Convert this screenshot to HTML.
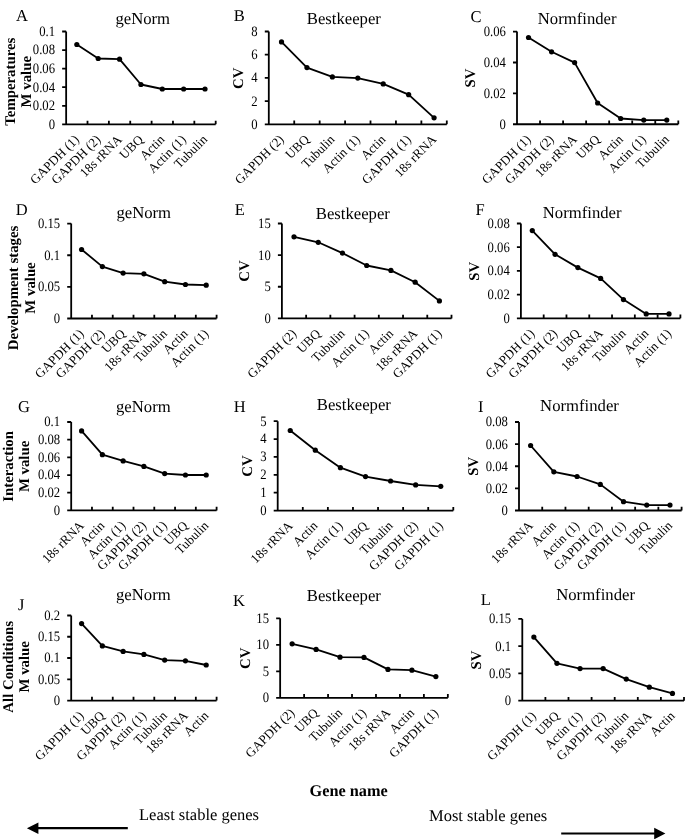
<!DOCTYPE html>
<html><head><meta charset="utf-8"><style>
html,body{margin:0;padding:0;background:#fff;overflow:hidden;}
svg{display:block;will-change:transform;}
text{font-family:"Liberation Serif",serif;fill:#000;text-rendering:geometricPrecision;}
.tl{font-size:13px;}
.yl{font-size:12.7px;}
.tt{font-size:16.7px;}
.lt{font-size:16.5px;}
.yt{font-size:14.8px;font-weight:bold;}
.bt{font-size:16.5px;}
.gn{font-size:16.3px;font-weight:bold;}
.ax,.tk{stroke:#000;stroke-width:1.8;fill:none;}
.ln{stroke:#000;stroke-width:1.8;fill:none;stroke-linejoin:round;}
circle{fill:#000;}
</style></head><body>
<svg width="685" height="839" viewBox="0 0 685 839">
<path class="ax" d="M66.15 31.5V124.35M62.15 124.35H215.7"/>
<path class="tk" d="M62.15 105.78H66.15M62.15 87.21H66.15M62.15 68.64H66.15M62.15 50.07H66.15M62.15 31.5H66.15M87.51 124.35V120.65M108.88 124.35V120.65M130.24 124.35V120.65M151.61 124.35V120.65M172.97 124.35V120.65M194.34 124.35V120.65M215.7 124.35V120.65"/>
<text class="yl" text-anchor="end" transform="translate(55.05 128.75) scale(1 1.13)">0</text>
<text class="yl" text-anchor="end" transform="translate(55.05 110.18) scale(1 1.13)">0.02</text>
<text class="yl" text-anchor="end" transform="translate(55.05 91.61) scale(1 1.13)">0.04</text>
<text class="yl" text-anchor="end" transform="translate(55.05 73.04) scale(1 1.13)">0.06</text>
<text class="yl" text-anchor="end" transform="translate(55.05 54.47) scale(1 1.13)">0.08</text>
<text class="yl" text-anchor="end" transform="translate(55.05 35.9) scale(1 1.13)">0.1</text>
<text class="tl" x="79.93" y="140.25" text-anchor="end" transform="rotate(-45 79.93 140.25)">GAPDH (1)</text>
<text class="tl" x="101.3" y="140.25" text-anchor="end" transform="rotate(-45 101.3 140.25)">GAPDH (2)</text>
<text class="tl" x="122.66" y="140.25" text-anchor="end" transform="rotate(-45 122.66 140.25)">18s rRNA</text>
<text class="tl" x="144.03" y="140.25" text-anchor="end" transform="rotate(-45 144.03 140.25)">UBQ</text>
<text class="tl" x="165.39" y="140.25" text-anchor="end" transform="rotate(-45 165.39 140.25)">Actin</text>
<text class="tl" x="186.75" y="140.25" text-anchor="end" transform="rotate(-45 186.75 140.25)">Actin (1)</text>
<text class="tl" x="208.12" y="140.25" text-anchor="end" transform="rotate(-45 208.12 140.25)">Tubulin</text>
<polyline class="ln" points="76.83,44.5 98.2,58.5 119.56,59.2 140.93,84.5 162.29,89 183.65,89 205.02,89"/>
<circle cx="76.83" cy="44.5" r="2.6"/>
<circle cx="98.2" cy="58.5" r="2.6"/>
<circle cx="119.56" cy="59.2" r="2.6"/>
<circle cx="140.93" cy="84.5" r="2.6"/>
<circle cx="162.29" cy="89" r="2.6"/>
<circle cx="183.65" cy="89" r="2.6"/>
<circle cx="205.02" cy="89" r="2.6"/>
<text class="lt" x="16" y="21.1">A</text>
<text class="tt" x="115.4" y="23.5">geNorm</text>
<text class="yt" text-anchor="middle" transform="translate(15.3 81.7) rotate(-90)">Temperatures</text>
<text class="yt" text-anchor="middle" transform="translate(31.2 81.7) rotate(-90)">M value</text>
<path class="ax" d="M268.8 31.5V124.3M264.8 124.3H446.8"/>
<path class="tk" d="M264.8 101.1H268.8M264.8 77.9H268.8M264.8 54.7H268.8M264.8 31.5H268.8M294.23 124.3V120.6M319.66 124.3V120.6M345.09 124.3V120.6M370.51 124.3V120.6M395.94 124.3V120.6M421.37 124.3V120.6M446.8 124.3V120.6"/>
<text class="yl" text-anchor="end" transform="translate(257.7 128.7) scale(1 1.13)">0</text>
<text class="yl" text-anchor="end" transform="translate(257.7 105.5) scale(1 1.13)">2</text>
<text class="yl" text-anchor="end" transform="translate(257.7 82.3) scale(1 1.13)">4</text>
<text class="yl" text-anchor="end" transform="translate(257.7 59.1) scale(1 1.13)">6</text>
<text class="yl" text-anchor="end" transform="translate(257.7 35.9) scale(1 1.13)">8</text>
<text class="tl" x="284.61" y="140.2" text-anchor="end" transform="rotate(-45 284.61 140.2)">GAPDH (2)</text>
<text class="tl" x="310.04" y="140.2" text-anchor="end" transform="rotate(-45 310.04 140.2)">UBQ</text>
<text class="tl" x="335.47" y="140.2" text-anchor="end" transform="rotate(-45 335.47 140.2)">Tubulin</text>
<text class="tl" x="360.9" y="140.2" text-anchor="end" transform="rotate(-45 360.9 140.2)">Actin (1)</text>
<text class="tl" x="386.33" y="140.2" text-anchor="end" transform="rotate(-45 386.33 140.2)">Actin</text>
<text class="tl" x="411.76" y="140.2" text-anchor="end" transform="rotate(-45 411.76 140.2)">GAPDH (1)</text>
<text class="tl" x="437.19" y="140.2" text-anchor="end" transform="rotate(-45 437.19 140.2)">18s rRNA</text>
<polyline class="ln" points="281.51,41.9 306.94,67.6 332.37,76.9 357.8,78.1 383.23,83.9 408.66,94.7 434.09,117.8"/>
<circle cx="281.51" cy="41.9" r="2.6"/>
<circle cx="306.94" cy="67.6" r="2.6"/>
<circle cx="332.37" cy="76.9" r="2.6"/>
<circle cx="357.8" cy="78.1" r="2.6"/>
<circle cx="383.23" cy="83.9" r="2.6"/>
<circle cx="408.66" cy="94.7" r="2.6"/>
<circle cx="434.09" cy="117.8" r="2.6"/>
<text class="lt" x="233.7" y="20.8">B</text>
<text class="tt" x="306.8" y="23.5">Bestkeeper</text>
<text class="yt" text-anchor="middle" transform="translate(243.1 78.2) rotate(-90)">CV</text>
<path class="ax" d="M517 31.6V124.25M513 124.25H678.3"/>
<path class="tk" d="M513 93.37H517M513 62.48H517M513 31.6H517M540.04 124.25V120.55M563.09 124.25V120.55M586.13 124.25V120.55M609.17 124.25V120.55M632.21 124.25V120.55M655.26 124.25V120.55M678.3 124.25V120.55"/>
<text class="yl" text-anchor="end" transform="translate(505.9 128.65) scale(1 1.13)">0</text>
<text class="yl" text-anchor="end" transform="translate(505.9 97.77) scale(1 1.13)">0.02</text>
<text class="yl" text-anchor="end" transform="translate(505.9 66.88) scale(1 1.13)">0.04</text>
<text class="yl" text-anchor="end" transform="translate(505.9 36) scale(1 1.13)">0.06</text>
<text class="tl" x="531.62" y="140.15" text-anchor="end" transform="rotate(-45 531.62 140.15)">GAPDH (1)</text>
<text class="tl" x="554.66" y="140.15" text-anchor="end" transform="rotate(-45 554.66 140.15)">GAPDH (2)</text>
<text class="tl" x="577.71" y="140.15" text-anchor="end" transform="rotate(-45 577.71 140.15)">18s rRNA</text>
<text class="tl" x="600.75" y="140.15" text-anchor="end" transform="rotate(-45 600.75 140.15)">UBQ</text>
<text class="tl" x="623.79" y="140.15" text-anchor="end" transform="rotate(-45 623.79 140.15)">Actin</text>
<text class="tl" x="646.84" y="140.15" text-anchor="end" transform="rotate(-45 646.84 140.15)">Actin (1)</text>
<text class="tl" x="669.88" y="140.15" text-anchor="end" transform="rotate(-45 669.88 140.15)">Tubulin</text>
<polyline class="ln" points="528.52,37.5 551.56,51.8 574.61,62.6 597.65,103 620.69,118.5 643.74,120.1 666.78,120.1"/>
<circle cx="528.52" cy="37.5" r="2.6"/>
<circle cx="551.56" cy="51.8" r="2.6"/>
<circle cx="574.61" cy="62.6" r="2.6"/>
<circle cx="597.65" cy="103" r="2.6"/>
<circle cx="620.69" cy="118.5" r="2.6"/>
<circle cx="643.74" cy="120.1" r="2.6"/>
<circle cx="666.78" cy="120.1" r="2.6"/>
<text class="lt" x="470.4" y="21.8">C</text>
<text class="tt" x="537.8" y="23.5">Normfinder</text>
<text class="yt" text-anchor="middle" transform="translate(475.3 78.15) rotate(-90)">SV</text>
<path class="ax" d="M71.2 223.6V318.5M67.2 318.5H216.6"/>
<path class="tk" d="M67.2 286.87H71.2M67.2 255.23H71.2M67.2 223.6H71.2M91.97 318.5V314.8M112.74 318.5V314.8M133.51 318.5V314.8M154.29 318.5V314.8M175.06 318.5V314.8M195.83 318.5V314.8M216.6 318.5V314.8"/>
<text class="yl" text-anchor="end" transform="translate(60.1 322.9) scale(1 1.13)">0</text>
<text class="yl" text-anchor="end" transform="translate(60.1 291.27) scale(1 1.13)">0.05</text>
<text class="yl" text-anchor="end" transform="translate(60.1 259.63) scale(1 1.13)">0.1</text>
<text class="yl" text-anchor="end" transform="translate(60.1 228) scale(1 1.13)">0.15</text>
<text class="tl" x="84.69" y="334.4" text-anchor="end" transform="rotate(-45 84.69 334.4)">GAPDH (1)</text>
<text class="tl" x="105.46" y="334.4" text-anchor="end" transform="rotate(-45 105.46 334.4)">GAPDH (2)</text>
<text class="tl" x="126.23" y="334.4" text-anchor="end" transform="rotate(-45 126.23 334.4)">UBQ</text>
<text class="tl" x="147" y="334.4" text-anchor="end" transform="rotate(-45 147 334.4)">18s rRNA</text>
<text class="tl" x="167.77" y="334.4" text-anchor="end" transform="rotate(-45 167.77 334.4)">Tubulin</text>
<text class="tl" x="188.54" y="334.4" text-anchor="end" transform="rotate(-45 188.54 334.4)">Actin</text>
<text class="tl" x="209.31" y="334.4" text-anchor="end" transform="rotate(-45 209.31 334.4)">Actin (1)</text>
<polyline class="ln" points="81.59,249.5 102.36,266.6 123.13,273.1 143.9,273.8 164.67,281.7 185.44,284.5 206.21,285.2"/>
<circle cx="81.59" cy="249.5" r="2.6"/>
<circle cx="102.36" cy="266.6" r="2.6"/>
<circle cx="123.13" cy="273.1" r="2.6"/>
<circle cx="143.9" cy="273.8" r="2.6"/>
<circle cx="164.67" cy="281.7" r="2.6"/>
<circle cx="185.44" cy="284.5" r="2.6"/>
<circle cx="206.21" cy="285.2" r="2.6"/>
<text class="lt" x="15.7" y="214.5">D</text>
<text class="tt" x="116.4" y="217.8">geNorm</text>
<text class="yt" text-anchor="middle" transform="translate(18 288) rotate(-90)">Development stages</text>
<text class="yt" text-anchor="middle" transform="translate(35 288) rotate(-90)">M value</text>
<path class="ax" d="M281.9 223.5V318.4M277.9 318.4H451.5"/>
<path class="tk" d="M277.9 286.77H281.9M277.9 255.13H281.9M277.9 223.5H281.9M306.13 318.4V314.7M330.36 318.4V314.7M354.59 318.4V314.7M378.81 318.4V314.7M403.04 318.4V314.7M427.27 318.4V314.7M451.5 318.4V314.7"/>
<text class="yl" text-anchor="end" transform="translate(270.8 322.8) scale(1 1.13)">0</text>
<text class="yl" text-anchor="end" transform="translate(270.8 291.17) scale(1 1.13)">5</text>
<text class="yl" text-anchor="end" transform="translate(270.8 259.53) scale(1 1.13)">10</text>
<text class="yl" text-anchor="end" transform="translate(270.8 227.9) scale(1 1.13)">15</text>
<text class="tl" x="297.11" y="334.3" text-anchor="end" transform="rotate(-45 297.11 334.3)">GAPDH (2)</text>
<text class="tl" x="321.34" y="334.3" text-anchor="end" transform="rotate(-45 321.34 334.3)">UBQ</text>
<text class="tl" x="345.57" y="334.3" text-anchor="end" transform="rotate(-45 345.57 334.3)">Tubulin</text>
<text class="tl" x="369.8" y="334.3" text-anchor="end" transform="rotate(-45 369.8 334.3)">Actin (1)</text>
<text class="tl" x="394.03" y="334.3" text-anchor="end" transform="rotate(-45 394.03 334.3)">Actin</text>
<text class="tl" x="418.26" y="334.3" text-anchor="end" transform="rotate(-45 418.26 334.3)">18s rRNA</text>
<text class="tl" x="442.49" y="334.3" text-anchor="end" transform="rotate(-45 442.49 334.3)">GAPDH (1)</text>
<polyline class="ln" points="294.01,236.8 318.24,242.3 342.47,253.1 366.7,265.5 390.93,270.4 415.16,282.2 439.39,300.9"/>
<circle cx="294.01" cy="236.8" r="2.6"/>
<circle cx="318.24" cy="242.3" r="2.6"/>
<circle cx="342.47" cy="253.1" r="2.6"/>
<circle cx="366.7" cy="265.5" r="2.6"/>
<circle cx="390.93" cy="270.4" r="2.6"/>
<circle cx="415.16" cy="282.2" r="2.6"/>
<circle cx="439.39" cy="300.9" r="2.6"/>
<text class="lt" x="234.7" y="214.5">E</text>
<text class="tt" x="315.8" y="219.2">Bestkeeper</text>
<text class="yt" text-anchor="middle" transform="translate(249.4 271) rotate(-90)">CV</text>
<path class="ax" d="M520.9 223.5V318.3M516.9 318.3H680.4"/>
<path class="tk" d="M516.9 294.6H520.9M516.9 270.9H520.9M516.9 247.2H520.9M516.9 223.5H520.9M543.69 318.3V314.6M566.47 318.3V314.6M589.26 318.3V314.6M612.04 318.3V314.6M634.83 318.3V314.6M657.61 318.3V314.6M680.4 318.3V314.6"/>
<text class="yl" text-anchor="end" transform="translate(509.8 322.7) scale(1 1.13)">0</text>
<text class="yl" text-anchor="end" transform="translate(509.8 299) scale(1 1.13)">0.02</text>
<text class="yl" text-anchor="end" transform="translate(509.8 275.3) scale(1 1.13)">0.04</text>
<text class="yl" text-anchor="end" transform="translate(509.8 251.6) scale(1 1.13)">0.06</text>
<text class="yl" text-anchor="end" transform="translate(509.8 227.9) scale(1 1.13)">0.08</text>
<text class="tl" x="535.39" y="334.2" text-anchor="end" transform="rotate(-45 535.39 334.2)">GAPDH (1)</text>
<text class="tl" x="558.18" y="334.2" text-anchor="end" transform="rotate(-45 558.18 334.2)">GAPDH (2)</text>
<text class="tl" x="580.96" y="334.2" text-anchor="end" transform="rotate(-45 580.96 334.2)">UBQ</text>
<text class="tl" x="603.75" y="334.2" text-anchor="end" transform="rotate(-45 603.75 334.2)">18s rRNA</text>
<text class="tl" x="626.54" y="334.2" text-anchor="end" transform="rotate(-45 626.54 334.2)">Tubulin</text>
<text class="tl" x="649.32" y="334.2" text-anchor="end" transform="rotate(-45 649.32 334.2)">Actin</text>
<text class="tl" x="672.11" y="334.2" text-anchor="end" transform="rotate(-45 672.11 334.2)">Actin (1)</text>
<polyline class="ln" points="532.29,230.6 555.08,254.3 577.86,267.6 600.65,278.4 623.44,299.6 646.22,313.9 669.01,313.9"/>
<circle cx="532.29" cy="230.6" r="2.6"/>
<circle cx="555.08" cy="254.3" r="2.6"/>
<circle cx="577.86" cy="267.6" r="2.6"/>
<circle cx="600.65" cy="278.4" r="2.6"/>
<circle cx="623.44" cy="299.6" r="2.6"/>
<circle cx="646.22" cy="313.9" r="2.6"/>
<circle cx="669.01" cy="313.9" r="2.6"/>
<text class="lt" x="475.4" y="214.5">F</text>
<text class="tt" x="542.8" y="217.5">Normfinder</text>
<text class="yt" text-anchor="middle" transform="translate(478.8 271.4) rotate(-90)">SV</text>
<path class="ax" d="M71.2 422V510.4M67.2 510.4H216.6"/>
<path class="tk" d="M67.2 492.72H71.2M67.2 475.04H71.2M67.2 457.36H71.2M67.2 439.68H71.2M67.2 422H71.2M91.97 510.4V506.7M112.74 510.4V506.7M133.51 510.4V506.7M154.29 510.4V506.7M175.06 510.4V506.7M195.83 510.4V506.7M216.6 510.4V506.7"/>
<text class="yl" text-anchor="end" transform="translate(60.1 514.8) scale(1 1.13)">0</text>
<text class="yl" text-anchor="end" transform="translate(60.1 497.12) scale(1 1.13)">0.02</text>
<text class="yl" text-anchor="end" transform="translate(60.1 479.44) scale(1 1.13)">0.04</text>
<text class="yl" text-anchor="end" transform="translate(60.1 461.76) scale(1 1.13)">0.06</text>
<text class="yl" text-anchor="end" transform="translate(60.1 444.08) scale(1 1.13)">0.08</text>
<text class="yl" text-anchor="end" transform="translate(60.1 426.4) scale(1 1.13)">0.1</text>
<text class="tl" x="84.69" y="526.3" text-anchor="end" transform="rotate(-45 84.69 526.3)">18s rRNA</text>
<text class="tl" x="105.46" y="526.3" text-anchor="end" transform="rotate(-45 105.46 526.3)">Actin</text>
<text class="tl" x="126.23" y="526.3" text-anchor="end" transform="rotate(-45 126.23 526.3)">Actin (1)</text>
<text class="tl" x="147" y="526.3" text-anchor="end" transform="rotate(-45 147 526.3)">GAPDH (2)</text>
<text class="tl" x="167.77" y="526.3" text-anchor="end" transform="rotate(-45 167.77 526.3)">GAPDH (1)</text>
<text class="tl" x="188.54" y="526.3" text-anchor="end" transform="rotate(-45 188.54 526.3)">UBQ</text>
<text class="tl" x="209.31" y="526.3" text-anchor="end" transform="rotate(-45 209.31 526.3)">Tubulin</text>
<polyline class="ln" points="81.59,430.9 102.36,454.7 123.13,460.9 143.9,466.4 164.67,473.6 185.44,475 206.21,475"/>
<circle cx="81.59" cy="430.9" r="2.6"/>
<circle cx="102.36" cy="454.7" r="2.6"/>
<circle cx="123.13" cy="460.9" r="2.6"/>
<circle cx="143.9" cy="466.4" r="2.6"/>
<circle cx="164.67" cy="473.6" r="2.6"/>
<circle cx="185.44" cy="475" r="2.6"/>
<circle cx="206.21" cy="475" r="2.6"/>
<text class="lt" x="18.1" y="411.8">G</text>
<text class="tt" x="116" y="411.8">geNorm</text>
<text class="yt" text-anchor="middle" transform="translate(12.5 466.4) rotate(-90)">Interaction</text>
<text class="yt" text-anchor="middle" transform="translate(29.2 466.4) rotate(-90)">M value</text>
<path class="ax" d="M277.7 421.2V510.6M273.7 510.6H453.3"/>
<path class="tk" d="M273.7 492.72H277.7M273.7 474.84H277.7M273.7 456.96H277.7M273.7 439.08H277.7M273.7 421.2H277.7M302.79 510.6V506.9M327.87 510.6V506.9M352.96 510.6V506.9M378.04 510.6V506.9M403.13 510.6V506.9M428.21 510.6V506.9M453.3 510.6V506.9"/>
<text class="yl" text-anchor="end" transform="translate(266.6 515) scale(1 1.13)">0</text>
<text class="yl" text-anchor="end" transform="translate(266.6 497.12) scale(1 1.13)">1</text>
<text class="yl" text-anchor="end" transform="translate(266.6 479.24) scale(1 1.13)">2</text>
<text class="yl" text-anchor="end" transform="translate(266.6 461.36) scale(1 1.13)">3</text>
<text class="yl" text-anchor="end" transform="translate(266.6 443.48) scale(1 1.13)">4</text>
<text class="yl" text-anchor="end" transform="translate(266.6 425.6) scale(1 1.13)">5</text>
<text class="tl" x="293.34" y="526.5" text-anchor="end" transform="rotate(-45 293.34 526.5)">18s rRNA</text>
<text class="tl" x="318.43" y="526.5" text-anchor="end" transform="rotate(-45 318.43 526.5)">Actin</text>
<text class="tl" x="343.51" y="526.5" text-anchor="end" transform="rotate(-45 343.51 526.5)">Actin (1)</text>
<text class="tl" x="368.6" y="526.5" text-anchor="end" transform="rotate(-45 368.6 526.5)">UBQ</text>
<text class="tl" x="393.69" y="526.5" text-anchor="end" transform="rotate(-45 393.69 526.5)">Tubulin</text>
<text class="tl" x="418.77" y="526.5" text-anchor="end" transform="rotate(-45 418.77 526.5)">GAPDH (2)</text>
<text class="tl" x="443.86" y="526.5" text-anchor="end" transform="rotate(-45 443.86 526.5)">GAPDH (1)</text>
<polyline class="ln" points="290.24,430.5 315.33,450.2 340.41,467.7 365.5,476.6 390.59,481 415.67,484.9 440.76,486.3"/>
<circle cx="290.24" cy="430.5" r="2.6"/>
<circle cx="315.33" cy="450.2" r="2.6"/>
<circle cx="340.41" cy="467.7" r="2.6"/>
<circle cx="365.5" cy="476.6" r="2.6"/>
<circle cx="390.59" cy="481" r="2.6"/>
<circle cx="415.67" cy="484.9" r="2.6"/>
<circle cx="440.76" cy="486.3" r="2.6"/>
<text class="lt" x="233.7" y="411.8">H</text>
<text class="tt" x="316.8" y="410.1">Bestkeeper</text>
<text class="yt" text-anchor="middle" transform="translate(251.8 466) rotate(-90)">CV</text>
<path class="ax" d="M519 422V510.5M515 510.5H681.6"/>
<path class="tk" d="M515 488.38H519M515 466.25H519M515 444.12H519M515 422H519M542.23 510.5V506.8M565.46 510.5V506.8M588.69 510.5V506.8M611.91 510.5V506.8M635.14 510.5V506.8M658.37 510.5V506.8M681.6 510.5V506.8"/>
<text class="yl" text-anchor="end" transform="translate(507.9 514.9) scale(1 1.13)">0</text>
<text class="yl" text-anchor="end" transform="translate(507.9 492.77) scale(1 1.13)">0.02</text>
<text class="yl" text-anchor="end" transform="translate(507.9 470.65) scale(1 1.13)">0.04</text>
<text class="yl" text-anchor="end" transform="translate(507.9 448.52) scale(1 1.13)">0.06</text>
<text class="yl" text-anchor="end" transform="translate(507.9 426.4) scale(1 1.13)">0.08</text>
<text class="tl" x="533.71" y="526.4" text-anchor="end" transform="rotate(-45 533.71 526.4)">18s rRNA</text>
<text class="tl" x="556.94" y="526.4" text-anchor="end" transform="rotate(-45 556.94 526.4)">Actin</text>
<text class="tl" x="580.17" y="526.4" text-anchor="end" transform="rotate(-45 580.17 526.4)">Actin (1)</text>
<text class="tl" x="603.4" y="526.4" text-anchor="end" transform="rotate(-45 603.4 526.4)">GAPDH (2)</text>
<text class="tl" x="626.63" y="526.4" text-anchor="end" transform="rotate(-45 626.63 526.4)">GAPDH (1)</text>
<text class="tl" x="649.86" y="526.4" text-anchor="end" transform="rotate(-45 649.86 526.4)">UBQ</text>
<text class="tl" x="673.09" y="526.4" text-anchor="end" transform="rotate(-45 673.09 526.4)">Tubulin</text>
<polyline class="ln" points="530.61,445.5 553.84,471.8 577.07,476.5 600.3,484.4 623.53,501.7 646.76,505.1 669.99,505.1"/>
<circle cx="530.61" cy="445.5" r="2.6"/>
<circle cx="553.84" cy="471.8" r="2.6"/>
<circle cx="577.07" cy="476.5" r="2.6"/>
<circle cx="600.3" cy="484.4" r="2.6"/>
<circle cx="623.53" cy="501.7" r="2.6"/>
<circle cx="646.76" cy="505.1" r="2.6"/>
<circle cx="669.99" cy="505.1" r="2.6"/>
<text class="lt" x="478.1" y="411.8">I</text>
<text class="tt" x="540.1" y="410.8">Normfinder</text>
<text class="yt" text-anchor="middle" transform="translate(478.2 466.4) rotate(-90)">SV</text>
<path class="ax" d="M71.2 615.5V700.55M67.2 700.55H216.6"/>
<path class="tk" d="M67.2 679.29H71.2M67.2 658.02H71.2M67.2 636.76H71.2M67.2 615.5H71.2M91.97 700.55V696.85M112.74 700.55V696.85M133.51 700.55V696.85M154.29 700.55V696.85M175.06 700.55V696.85M195.83 700.55V696.85M216.6 700.55V696.85"/>
<text class="yl" text-anchor="end" transform="translate(60.1 704.95) scale(1 1.13)">0</text>
<text class="yl" text-anchor="end" transform="translate(60.1 683.69) scale(1 1.13)">0.05</text>
<text class="yl" text-anchor="end" transform="translate(60.1 662.42) scale(1 1.13)">0.1</text>
<text class="yl" text-anchor="end" transform="translate(60.1 641.16) scale(1 1.13)">0.15</text>
<text class="yl" text-anchor="end" transform="translate(60.1 619.9) scale(1 1.13)">0.2</text>
<text class="tl" x="84.69" y="716.45" text-anchor="end" transform="rotate(-45 84.69 716.45)">GAPDH (1)</text>
<text class="tl" x="105.46" y="716.45" text-anchor="end" transform="rotate(-45 105.46 716.45)">UBQ</text>
<text class="tl" x="126.23" y="716.45" text-anchor="end" transform="rotate(-45 126.23 716.45)">GAPDH (2)</text>
<text class="tl" x="147" y="716.45" text-anchor="end" transform="rotate(-45 147 716.45)">Actin (1)</text>
<text class="tl" x="167.77" y="716.45" text-anchor="end" transform="rotate(-45 167.77 716.45)">Tubulin</text>
<text class="tl" x="188.54" y="716.45" text-anchor="end" transform="rotate(-45 188.54 716.45)">18s rRNA</text>
<text class="tl" x="209.31" y="716.45" text-anchor="end" transform="rotate(-45 209.31 716.45)">Actin</text>
<polyline class="ln" points="81.59,623.6 102.36,645.9 123.13,651.4 143.9,654.4 164.67,660.1 185.44,660.8 206.21,665"/>
<circle cx="81.59" cy="623.6" r="2.6"/>
<circle cx="102.36" cy="645.9" r="2.6"/>
<circle cx="123.13" cy="651.4" r="2.6"/>
<circle cx="143.9" cy="654.4" r="2.6"/>
<circle cx="164.67" cy="660.1" r="2.6"/>
<circle cx="185.44" cy="660.8" r="2.6"/>
<circle cx="206.21" cy="665" r="2.6"/>
<text class="lt" x="18.1" y="609.5">J</text>
<text class="tt" x="116" y="600.1">geNorm</text>
<text class="yt" text-anchor="middle" transform="translate(12.5 666.8) rotate(-90)">All Conditions</text>
<text class="yt" text-anchor="middle" transform="translate(29.1 666.8) rotate(-90)">M value</text>
<path class="ax" d="M280.15 618.3V697.8M276.15 697.8H447.85"/>
<path class="tk" d="M276.15 671.3H280.15M276.15 644.8H280.15M276.15 618.3H280.15M304.11 697.8V694.1M328.06 697.8V694.1M352.02 697.8V694.1M375.98 697.8V694.1M399.94 697.8V694.1M423.89 697.8V694.1M447.85 697.8V694.1"/>
<text class="yl" text-anchor="end" transform="translate(269.05 702.2) scale(1 1.13)">0</text>
<text class="yl" text-anchor="end" transform="translate(269.05 675.7) scale(1 1.13)">5</text>
<text class="yl" text-anchor="end" transform="translate(269.05 649.2) scale(1 1.13)">10</text>
<text class="yl" text-anchor="end" transform="translate(269.05 622.7) scale(1 1.13)">15</text>
<text class="tl" x="295.23" y="713.7" text-anchor="end" transform="rotate(-45 295.23 713.7)">GAPDH (2)</text>
<text class="tl" x="319.19" y="713.7" text-anchor="end" transform="rotate(-45 319.19 713.7)">UBQ</text>
<text class="tl" x="343.14" y="713.7" text-anchor="end" transform="rotate(-45 343.14 713.7)">Tubulin</text>
<text class="tl" x="367.1" y="713.7" text-anchor="end" transform="rotate(-45 367.1 713.7)">Actin (1)</text>
<text class="tl" x="391.06" y="713.7" text-anchor="end" transform="rotate(-45 391.06 713.7)">18s rRNA</text>
<text class="tl" x="415.01" y="713.7" text-anchor="end" transform="rotate(-45 415.01 713.7)">Actin</text>
<text class="tl" x="438.97" y="713.7" text-anchor="end" transform="rotate(-45 438.97 713.7)">GAPDH (1)</text>
<polyline class="ln" points="292.13,643.8 316.09,649.4 340.04,657.2 364,657.4 387.96,669.4 411.91,670.2 435.87,676.6"/>
<circle cx="292.13" cy="643.8" r="2.6"/>
<circle cx="316.09" cy="649.4" r="2.6"/>
<circle cx="340.04" cy="657.2" r="2.6"/>
<circle cx="364" cy="657.4" r="2.6"/>
<circle cx="387.96" cy="669.4" r="2.6"/>
<circle cx="411.91" cy="670.2" r="2.6"/>
<circle cx="435.87" cy="676.6" r="2.6"/>
<text class="lt" x="233" y="606.2">K</text>
<text class="tt" x="306.8" y="601.2">Bestkeeper</text>
<text class="yt" text-anchor="middle" transform="translate(250 658.3) rotate(-90)">CV</text>
<path class="ax" d="M522.3 618.9V700.7M518.3 700.7H684"/>
<path class="tk" d="M518.3 673.43H522.3M518.3 646.17H522.3M518.3 618.9H522.3M545.4 700.7V697M568.5 700.7V697M591.6 700.7V697M614.7 700.7V697M637.8 700.7V697M660.9 700.7V697M684 700.7V697"/>
<text class="yl" text-anchor="end" transform="translate(511.2 705.1) scale(1 1.13)">0</text>
<text class="yl" text-anchor="end" transform="translate(511.2 677.83) scale(1 1.13)">0.05</text>
<text class="yl" text-anchor="end" transform="translate(511.2 650.57) scale(1 1.13)">0.1</text>
<text class="yl" text-anchor="end" transform="translate(511.2 623.3) scale(1 1.13)">0.15</text>
<text class="tl" x="536.95" y="716.6" text-anchor="end" transform="rotate(-45 536.95 716.6)">GAPDH (1)</text>
<text class="tl" x="560.05" y="716.6" text-anchor="end" transform="rotate(-45 560.05 716.6)">UBQ</text>
<text class="tl" x="583.15" y="716.6" text-anchor="end" transform="rotate(-45 583.15 716.6)">Actin (1)</text>
<text class="tl" x="606.25" y="716.6" text-anchor="end" transform="rotate(-45 606.25 716.6)">GAPDH (2)</text>
<text class="tl" x="629.35" y="716.6" text-anchor="end" transform="rotate(-45 629.35 716.6)">Tubulin</text>
<text class="tl" x="652.45" y="716.6" text-anchor="end" transform="rotate(-45 652.45 716.6)">18s rRNA</text>
<text class="tl" x="675.55" y="716.6" text-anchor="end" transform="rotate(-45 675.55 716.6)">Actin</text>
<polyline class="ln" points="533.85,637.1 556.95,663.3 580.05,668.6 603.15,668.6 626.25,679.1 649.35,687.2 672.45,693.4"/>
<circle cx="533.85" cy="637.1" r="2.6"/>
<circle cx="556.95" cy="663.3" r="2.6"/>
<circle cx="580.05" cy="668.6" r="2.6"/>
<circle cx="603.15" cy="668.6" r="2.6"/>
<circle cx="626.25" cy="679.1" r="2.6"/>
<circle cx="649.35" cy="687.2" r="2.6"/>
<circle cx="672.45" cy="693.4" r="2.6"/>
<text class="lt" x="480.8" y="605.2">L</text>
<text class="tt" x="556.2" y="599.5">Normfinder</text>
<text class="yt" text-anchor="middle" transform="translate(480.6 660) rotate(-90)">SV</text>
<text class="gn" x="309.5" y="795.6">Gene name</text>
<text class="bt" x="139" y="819.6">Least stable genes</text>
<text class="bt" x="429" y="821.4">Most stable genes</text>
<path d="M38 828.2H127.8" stroke="#000" stroke-width="2.3"/>
<path d="M561.2 833.4H655" stroke="#000" stroke-width="2"/>
<path d="M26.9 828.3L38.4 822.6V833.9Z M665.4 833.5L654.2 827.7V839.3Z" fill="#000"/>
</svg>
</body></html>
